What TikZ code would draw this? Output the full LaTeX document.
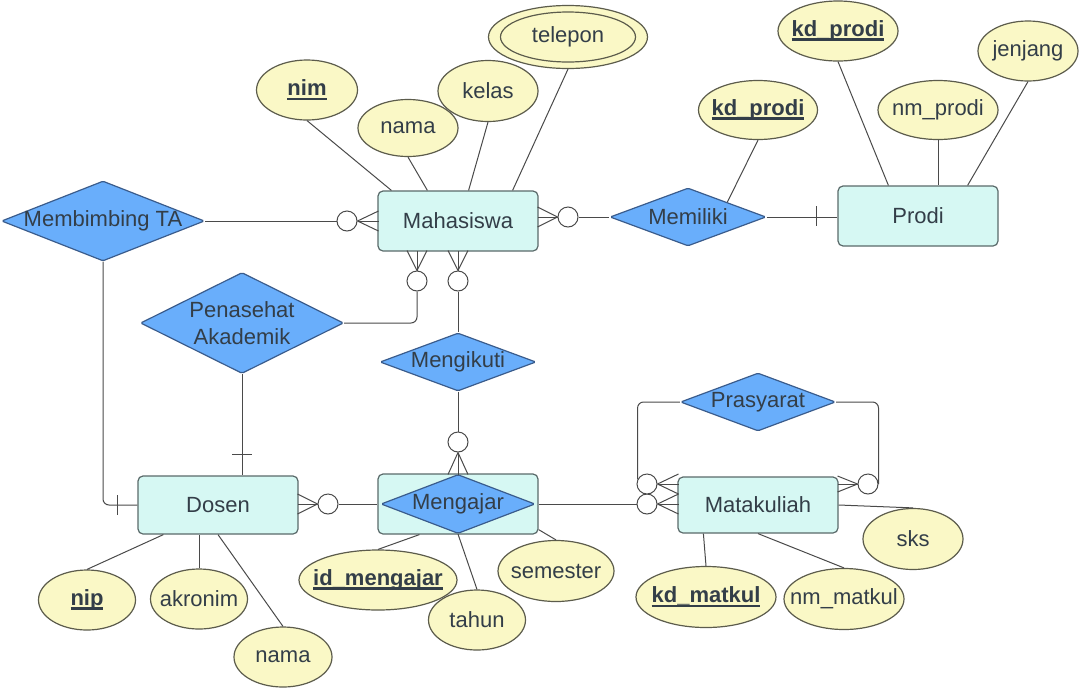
\documentclass[tikz,border=0pt]{standalone}
\usepackage{fontspec}
\setmainfont{Liberation Sans}
\usetikzlibrary{shapes.geometric}
\usetikzlibrary{positioning}

\definecolor{entfill}{HTML}{D6F8F3}
\definecolor{entline}{HTML}{5A6A6A}
\definecolor{relfill}{HTML}{69AEFB}
\definecolor{relline}{HTML}{3A5C8C}
\definecolor{attrfill}{HTML}{FAF8C6}
\definecolor{attrline}{HTML}{5C5C4C}
\definecolor{linecol}{HTML}{4A4A4A}
\definecolor{txtcol}{HTML}{333E48}
\newcommand{\keyattr}[1]{\setbox0\hbox{\textbf{#1}}\rlap{\rule[-4pt]{\wd0}{2.2pt}}\box0}

\tikzset{
  entity/.style={rectangle, rounded corners=5pt, draw=entline, fill=entfill, line width=1.2pt, minimum width=160pt, minimum height=60pt},
  rel/.style={diamond, draw=relline, fill=relfill, line width=1.2pt, inner sep=0pt, rounded corners=1.5pt},
  attr/.style={ellipse, draw=attrline, fill=attrfill, line width=1.2pt, inner sep=0pt, minimum width=#1, minimum height=60pt},
  opt/.style={circle, draw=linecol, fill=white, line width=1pt, minimum size=20pt, inner sep=0pt},
  conn/.style={draw=linecol, line width=1pt}
}

\begin{document}
\begin{tikzpicture}[x=1pt, y=-1pt, every node/.append style={text=txtcol, font=\fontsize{22}{27}\selectfont}]
                \fill[white] (0,0) rectangle (1079,689);
                \useasboundingbox (0,0) rectangle (1079,689);

                \node[entity] (mhs) at (458,221) {Mahasiswa};
                \node[entity] (prodi) at (918,216) {Prodi};
                \node[entity, minimum height=58pt] (dosen) at (218,505) {Dosen};
                \node[entity] (ajarbox) at (458,504) {};
                \node[entity, minimum height=56pt] (mk) at (758,505) {Matakuliah};

                \node[rel, minimum width=203pt, minimum height=80pt, label=center:Membimbing TA] (bim) at (103,221) {};
                \node[rel, minimum width=156pt, minimum height=58pt, label=center:Memiliki] (miliki) at (688,217) {};
                \node[rel, minimum width=203pt, minimum height=101pt, label={[align=center]center:Penasehat\\Akademik}] (pa) at (242,323) {};
                \node[rel, minimum width=156pt, minimum height=58pt, label=center:Mengikuti] (ikut) at (458,362) {};
                \node[rel, minimum width=155pt, minimum height=58pt, label=center:Prasyarat] (pras) at (758,402) {};
                \node[rel, minimum width=154pt, minimum height=59pt, label=center:Mengajar] (ajar) at (458,504) {};

                \node[attr=101pt, label=center:\keyattr{nim}] (nim) at (307,90) {};
                \node[attr=100pt, minimum height=57pt, label=center:nama] (nama) at (408,128) {};
                \node[attr=100pt, minimum height=61pt, label=center:kelas] (kelas) at (488,91) {};
                \node[attr=159pt, minimum height=63pt] (telo) at (568,37) {};
                \node[attr=135pt, minimum height=50pt, label=center:telepon] (tel) at (568,37) {};
                \node[attr=120pt, label=center:\keyattr{kd\_prodi}] (kdp) at (838,31) {};
                \node[attr=100pt, label=center:jenjang] (jenjang) at (1028,51) {};
                \node[attr=120pt, minimum height=59pt, label=center:nm\_prodi] (nmp) at (938,110) {};
                \node[attr=119pt, minimum height=59pt, label=center:\keyattr{kd\_prodi}] (kdpm) at (758,110) {};
                \node[attr=97pt, label=center:\keyattr{nip}] (nip) at (87,600) {};
                \node[attr=97pt, label=center:akronim] (akronim) at (199,599) {};
                \node[attr=98pt, label=center:nama] (namad) at (283,657) {};
                \node[attr=158pt, label=center:\keyattr{id\_mengajar}] (idm) at (378,580) {};
                \node[attr=97pt, label=center:tahun] (tahun) at (477,620) {};
                \node[attr=116pt, minimum height=61pt, label=center:semester] (semester) at (556,571) {};
                \node[attr=140pt, minimum height=61pt, label=center:\keyattr{kd\_matkul}] (kdm) at (706,597) {};
                \node[attr=120pt, minimum height=61pt, label=center:nm\_matkul] (nmm) at (844,599) {};
                \node[attr=100pt, minimum height=61pt, label=center:sks] (sks) at (913,539) {};

                \node[opt] (c1) at (347,221) {};
                \node[opt] (c2) at (568,217) {};
                \node[opt] (c3) at (417,281) {};
                \node[opt] (c4) at (458,281) {};
                \node[opt] (c5) at (458,442) {};
                \node[opt] (c6) at (328,504) {};
                \node[opt] (c7) at (647,504) {};
                \node[opt] (c8) at (647,484) {};
                \node[opt] (c9) at (868,484) {};

                \draw[conn] (bim.east) -- (c1.west);
                \draw[conn, rounded corners=6pt] (bim.south) |- (dosen.west);
                \draw[conn] (dosen.west) ++(-20,-10) -- ++(0,20);
                \draw[conn] (c2.east) -- (miliki.west);
                \draw[conn] (miliki.east) -- (miliki.east -| prodi.west);
                \draw[conn] (prodi.west) ++(-21,-10) -- ++(0,20);
                \draw[conn, rounded corners=6pt] (c3.south) |- (pa.east);
                \draw[conn] (pa.south) -- (pa.south |- dosen.north);
                \draw[conn] (pa.south |- dosen.north) ++(-10,-21) -- ++(20,0);
                \draw[conn] (c4.south) -- (ikut.north);
                \draw[conn] (ikut.south) -- (c5.north);
                \draw[conn] (c6.east) -- (ajarbox.west);
                \draw[conn] (ajarbox.east) -- (c7.west);
                \draw[conn, rounded corners=6pt] (c8.154) |- (pras.west);
                \draw[conn, rounded corners=6pt] (c9.east) |- (pras.east);

                \foreach \d in {-10,0,10} {
                  \draw[conn] (c1.east) -- ++(21,\d);
                  \draw[conn] (c2.west) -- ++(-20,\d);
                  \draw[conn] (c3.north) -- ++(\d,-20);
                  \draw[conn] (c4.north) -- ++(\d,-20);
                  \draw[conn] (c5.south) -- ++(\d,22);
                  \draw[conn] (c6.west) -- ++(-20,\d);
                  \draw[conn] (c7.east) -- ++(21,\d);
                  \draw[conn] (c8.east) -- ++(21,\d);
                }
                \foreach \d in {-8,0,8} \draw[conn] (c9.west) -- ++(-20,\d);

                \draw[conn] (nim.south) -- ([xshift=14pt]mhs.north west);
                \draw[conn] (nama.south) -- ([xshift=50pt]mhs.north west);
                \draw[conn] (kelas.south) -- ([xshift=-70pt]mhs.north east);
                \draw[conn] (telo.south) -- ([xshift=-26pt]mhs.north east);
                \draw[conn] (kdp.south) -- ([xshift=51pt]prodi.north west);
                \draw[conn] (nmp.south) -- (nmp.south |- prodi.north);
                \draw[conn] (jenjang.south) -- ([xshift=-31pt]prodi.north east);
                \draw[conn] (kdpm.south) -- (miliki.north east);
                \draw[conn] (nip.north) -- ([xshift=26pt]dosen.south west);
                \draw[conn] (akronim.north) -- (akronim.north |- dosen.south);
                \draw[conn] (namad.north) -- (dosen.south);
                \draw[conn] (idm.north) -- ([xshift=42pt]ajarbox.south west);
                \draw[conn] (tahun.north) -- (ajar.south);
                \draw[conn] (semester.north) -- ([yshift=5pt]ajarbox.south east);
                \draw[conn] (kdm.north) -- ([xshift=26pt]mk.south west);
                \draw[conn] (nmm.north) -- (mk.south);
                \draw[conn] (sks.north) -- (mk.east);
              \end{tikzpicture}
\end{document}
